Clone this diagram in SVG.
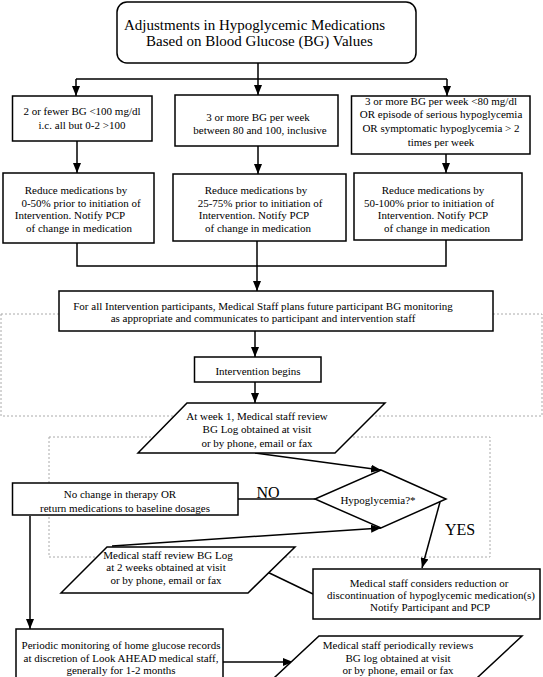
<svg xmlns="http://www.w3.org/2000/svg" width="543" height="677" viewBox="0 0 543 677">
<defs>
<marker id="ah" markerUnits="userSpaceOnUse" markerWidth="10" markerHeight="8" viewBox="0 0 10 8" refX="10" refY="4" orient="auto">
<path d="M0,0 L10,4 L0,8 z" fill="#000"/>
</marker>
<style>
.box{fill:#fff;stroke:#000;stroke-width:1.5}
.t{font-family:"Liberation Serif","Times New Roman",serif;font-size:11px;fill:#000;text-anchor:middle}
.tt{font-family:"Liberation Serif","Times New Roman",serif;font-size:15px;fill:#000}
.lbl{font-family:"Liberation Serif","Times New Roman",serif;font-size:16px;fill:#000;text-anchor:middle}
.c{fill:none;stroke:#000;stroke-width:1.5}
.ca{fill:none;stroke:#000;stroke-width:1.5;marker-end:url(#ah)}
.dot{fill:none;stroke:#aaa;stroke-width:1;stroke-dasharray:2,2}
</style>
</defs>
<rect width="543" height="677" fill="#fff"/>
<g id="regions">
<rect class="dot" x="1" y="314" width="541" height="102"/>
<rect class="dot" x="49" y="437" width="441" height="120"/>
</g>
<g id="connectors">
<path class="c" d="M258,63 V79 M76,79 H447"/>
<path class="ca" d="M76,79 V96"/>
<path class="ca" d="M258,79 V95"/>
<path class="ca" d="M447,79 V96"/>
<path class="ca" d="M77,141 V173"/>
<path class="ca" d="M258,146 V174"/>
<path class="ca" d="M446,154 V173"/>
<path class="c" d="M77,243 V266 H446 V240"/>
<path class="ca" d="M257,241 V291"/>
<path class="ca" d="M255,331 V357"/>
<path class="ca" d="M255,382 V403"/>
<path class="ca" d="M255,453 L381,470"/>
<path class="ca" d="M315,499 H226"/>
<path class="ca" d="M30,516 V629"/>
<path class="ca" d="M440,502 L422,568"/>
<path class="ca" d="M313,594 L259,568"/>
<path class="ca" d="M112,546 L381,528"/>
<path class="ca" d="M223,662 L293,662"/>
<text class="lbl" x="268" y="498">NO</text>
<text class="lbl" x="460" y="535">YES</text>
</g>
<g id="title">
<rect class="box" x="117" y="2" width="299" height="61" rx="10"/>
<text class="tt" x="124" y="30">Adjustments in Hypoglycemic Medications</text>
<text class="tt" x="146" y="46">Based on Blood Glucose (BG) Values</text>
</g>
<g id="b1">
<rect class="box" x="12.5" y="96" width="139.5" height="45"/>
<text class="t" x="82" y="115">2 or fewer BG &lt;100 mg/dl</text>
<text class="t" x="82" y="129">i.c. all but 0-2 &gt;100</text>
</g>
<g id="b2">
<rect class="box" x="175" y="95" width="163" height="51"/>
<text class="t" x="258" y="121">3 or more BG per week</text>
<text class="t" x="260" y="134">between  80 and 100, inclusive</text>
</g>
<g id="b3">
<rect class="box" x="351.5" y="96" width="178.5" height="58"/>
<text class="t" x="441" y="105">3 or more BG per week &lt;80 mg/dl</text>
<text class="t" x="441" y="118">OR episode of serious hypoglycemia</text>
<text class="t" x="441" y="132">OR symptomatic hypoglycemia &gt; 2</text>
<text class="t" x="441" y="146">times per week</text>
</g>
<g id="b4">
<rect class="box" x="3" y="173" width="151" height="70"/>
<text class="t" x="76" y="194">Reduce medications by</text>
<text class="t" x="81" y="207">0-50% prior to initiation of</text>
<text class="t" x="70" y="219">Intervention. Notify PCP</text>
<text class="t" x="79" y="232">of change in medication</text>
</g>
<g id="b5">
<rect class="box" x="173" y="174" width="173" height="67"/>
<text class="t" x="256" y="194">Reduce medications by</text>
<text class="t" x="260" y="207">25-75% prior to initiation of</text>
<text class="t" x="254" y="219">Intervention. Notify PCP</text>
<text class="t" x="258" y="232">of change in medication</text>
</g>
<g id="b6">
<rect class="box" x="354" y="173" width="168" height="67"/>
<text class="t" x="433" y="194">Reduce medications by</text>
<text class="t" x="429" y="207">50-100%  prior to initiation of</text>
<text class="t" x="433" y="219">Intervention. Notify PCP</text>
<text class="t" x="437" y="232">of change in medication</text>
</g>
<g id="plan">
<rect class="box" x="59" y="291" width="434" height="40"/>
<text class="t" x="263" y="310">For all Intervention participants, Medical Staff plans future participant BG monitoring</text>
<text class="t" x="263" y="322">as appropriate and communicates to participant and intervention staff</text>
</g>
<g id="begin">
<rect class="box" x="194.5" y="357" width="126.5" height="25"/>
<text class="t" x="258" y="375">Intervention begins</text>
</g>
<g id="week1">
<polygon class="box" points="187,403 385,403 335,453 138,453"/>
<text class="t" x="257" y="420">At week 1, Medical staff review</text>
<text class="t" x="257" y="433">BG  Log obtained at visit</text>
<text class="t" x="257" y="447">or by phone, email or fax</text>
</g>
<g id="hypo">
<polygon class="box" points="381,470 446,499 381,528 315,499"/>
<text class="t" x="378" y="504">Hypoglycemia?*</text>
</g>
<g id="nochange">
<rect class="box" x="12.5" y="483" width="225.5" height="32"/>
<text class="t" x="120" y="498">No change in therapy OR</text>
<text class="t" x="125" y="512">return medications to baseline dosages</text>
</g>
<g id="week2">
<polygon class="box" points="107,547 295,547 248,593 61,593"/>
<text class="t" x="168" y="559">Medical staff review BG  Log</text>
<text class="t" x="166" y="571">at 2 weeks obtained at visit</text>
<text class="t" x="166" y="584">or by phone, email or fax</text>
</g>
<g id="reduce">
<rect class="box" x="313" y="569" width="227" height="50"/>
<text class="t" x="429" y="587">Medical staff considers reduction or</text>
<text class="t" x="431" y="599">discontinuation of hypoglycemic medication(s)</text>
<text class="t" x="430" y="611">Notify Participant and PCP</text>
</g>
<g id="periodic">
<rect class="box" x="16" y="629" width="207" height="60"/>
<text class="t" x="121" y="649">Periodic monitoring of home glucose records</text>
<text class="t" x="121" y="662">at discretion of Look AHEAD medical staff,</text>
<text class="t" x="121" y="674">generally for 1-2 months</text>
</g>
<g id="periodicreview">
<polygon class="box" points="319,636 522,636 463,691 260,691"/>
<text class="t" x="398" y="649">Medical staff periodically  reviews</text>
<text class="t" x="398" y="662">BG log obtained at visit</text>
<text class="t" x="398" y="674">or by phone, email or fax</text>
</g>
</svg>
